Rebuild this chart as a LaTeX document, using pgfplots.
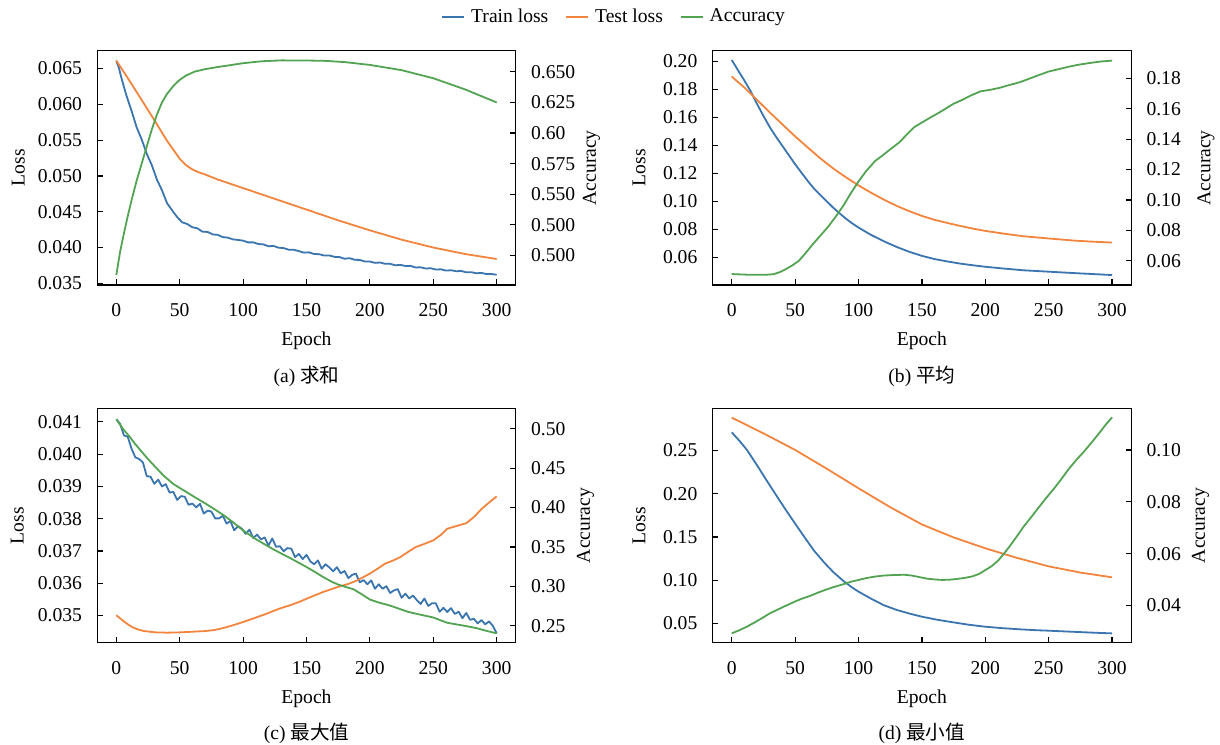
\documentclass[border=0pt]{standalone}
\usepackage{fontspec}
\setmainfont{Liberation Serif}
\newfontfamily\cjk{Noto Sans CJK SC}
\usepackage{pgfplots}
\pgfplotsset{compat=1.18}

\definecolor{cBlue}{RGB}{58,117,175}
\definecolor{cOrange}{RGB}{242,133,62}
\definecolor{cGreen}{RGB}{82,163,82}
\newcommand{\fsz}{\fontsize{9.8}{11.5}\selectfont}

\pgfplotsset{
  base/.style={scale only axis, width=209.2pt, height=117.2pt,
    xmin=-15, xmax=315, tick align=inside, major tick length=2.8pt,
    scaled y ticks=false, clip mode=individual,
    every tick/.style={black, line width=0.6pt},
    axis line style={black, line width=0.6pt},
    tick label style={font=\fsz}, label style={font=\fsz},
    every axis plot/.append style={line width=0.9pt, line join=round}},
  leftax/.style={base, xtick pos=bottom, ytick pos=left,
    xtick={0,50,100,150,200,250,300},
    xticklabels={0,50,100,150,200,250,300},
    xticklabel style={anchor=north, inner sep=0pt, yshift=-9pt},
    yticklabel style={anchor=east, inner sep=0pt, xshift=-7.5pt},
    xlabel={Epoch}, ylabel={Loss},
    xlabel style={at={(axis description cs:0.5,-0.240)}, anchor=center}},
  rightax/.style={base, axis x line=none, axis y line*=right,
    tick align=inside,
    yticklabel style={anchor=west, inner sep=0pt, xshift=7.5pt},
    ylabel={Accuracy}},
}

\begin{document}
\begin{tikzpicture}
\useasboundingbox (0,0) rectangle (610pt,372pt);

% ---------- (a) sum ----------
\begin{axis}[leftax, at={(48.65pt,229.5pt)}, anchor=south west,
  ymin=0.03477, ymax=0.0675,
  ytick={0.035,0.040,0.045,0.050,0.055,0.060,0.065},
  yticklabels={0.035,0.040,0.045,0.050,0.055,0.060,0.065},
  ylabel style={at={(axis description cs:-0.189,0.5)}, anchor=center},
  legend columns=3,
  legend image code/.code={\draw[#1] (0pt,0pt) -- (11pt,0pt);},
  legend style={at={(axis description cs:1.24,1.1433)}, anchor=center,
    draw=none, fill=none, font=\fsz,
    nodes={inner xsep=3pt, inner ysep=1pt},
    /tikz/every even column/.append style={column sep=5.5pt}}]
\addplot[cBlue] coordinates {
(0,0.0661)(2,0.0651)(4,0.0637)(8,0.0612)(12,0.0591)(16,0.0568)(20,0.0551)
(24,0.0531)(28,0.0515)(32,0.0495)(36,0.0480)(40,0.0462)(44,0.0452)
(48,0.04425)(52,0.04352)(56,0.04328)(60,0.04283)(64,0.04268)(68,0.04221)
(72,0.04218)(76,0.04183)(80,0.04177)(84,0.04146)(88,0.04138)(92,0.04114)
(96,0.04106)(100,0.04096)(104,0.04072)(108,0.04072)(112,0.04049)(116,0.04044)
(120,0.04018)(124,0.04022)(128,0.03998)(132,0.03992)(136,0.03969)(140,0.03969)
(144,0.03950)(148,0.03929)(152,0.03933)(156,0.03910)(160,0.03907)(164,0.03888)
(168,0.03890)(172,0.03870)(176,0.03867)(180,0.03844)(184,0.03851)(188,0.03829)
(192,0.03827)(196,0.03805)(200,0.03804)(204,0.03786)(208,0.03791)(212,0.03773)
(216,0.03773)(220,0.03752)(224,0.03758)(228,0.03742)(232,0.03744)(236,0.03722)
(240,0.03724)(244,0.03707)(248,0.03711)(252,0.03693)(256,0.03696)(260,0.03678)
(264,0.03683)(268,0.03669)(272,0.03673)(276,0.03654)(280,0.03656)(284,0.03641)
(288,0.03646)(292,0.03629)(296,0.03630)(300,0.03620)};
\addlegendentry{Train loss}
\addplot[cOrange] coordinates {
(0,0.0661)(10,0.0634)(20,0.0606)(30,0.0578)(40,0.0549)(50,0.0524)(55,0.0515)
(60,0.0509)(65,0.0505)(70,0.0502)(80,0.0495)(90,0.0489)(100,0.0483)
(125,0.0468)(150,0.0453)(175,0.0438)(200,0.0424)(225,0.0411)(250,0.0400)
(275,0.0391)(300,0.0384)};
\addlegendentry{Test loss}
\addlegendimage{cGreen, line width=0.9pt}
\addlegendentry{Accuracy}
\node[font=\fsz] at (axis description cs:0.5,-0.388) {(a) {\cjk 求和}};
\end{axis}
\begin{axis}[rightax, at={(48.65pt,229.5pt)}, anchor=south west,
  ymin=0.4758, ymax=0.6674,
  ytick={0.500,0.525,0.550,0.575,0.600,0.625,0.650},
  yticklabels={0.500,0.500,0.550,0.575,0.60,0.625,0.650},
  ylabel style={at={(axis description cs:1.181,0.5)}, anchor=center}]
\addplot[cGreen] coordinates {
(0,0.4840)(3,0.5030)(6,0.5180)(9,0.5320)(12,0.5450)(16,0.5610)(20,0.5750)
(24,0.5890)(28,0.6030)(32,0.6150)(36,0.6250)(40,0.6320)(45,0.6385)(50,0.6435)
(55,0.6470)(62,0.6503)(70,0.6522)(80,0.6540)(90,0.6555)(100,0.6571)
(115,0.6587)(130,0.6594)(150,0.6593)(165,0.6590)(180,0.6580)(200,0.6557)
(225,0.6514)(250,0.6448)(275,0.6357)(300,0.6250)};
\end{axis}

% ---------- (b) mean ----------
\begin{axis}[leftax, at={(356.35pt,229.5pt)}, anchor=south west,
  ymin=0.0403, ymax=0.2076,
  ytick={0.06,0.08,0.10,0.12,0.14,0.16,0.18,0.20},
  yticklabels={0.06,0.08,0.10,0.12,0.14,0.16,0.18,0.20},
  ylabel style={at={(axis description cs:-0.176,0.5)}, anchor=center}]
\addplot[cBlue] coordinates {
(0,0.2009)(5,0.1935)(10,0.1862)(15,0.1785)(20,0.1695)(25,0.1610)(30,0.1530)
(35,0.1460)(40,0.1395)(45,0.1330)(50,0.1265)(55,0.1205)(60,0.1145)(65,0.1090)
(70,0.1045)(75,0.1000)(80,0.0955)(85,0.0915)(90,0.0877)(95,0.0843)(100,0.0813)
(110,0.0760)(120,0.0715)(130,0.0675)(140,0.0640)(150,0.0611)(160,0.0588)
(170,0.0571)(180,0.0556)(190,0.0544)(200,0.0533)(215,0.0520)(230,0.0508)
(250,0.0498)(270,0.0488)(285,0.0481)(300,0.0474)};
\addplot[cOrange] coordinates {
(0,0.1891)(10,0.1812)(20,0.1724)(30,0.1635)(40,0.1549)(50,0.1464)(60,0.1384)
(70,0.1306)(80,0.1235)(90,0.1172)(100,0.1114)(110,0.1061)(120,0.1012)
(130,0.0968)(140,0.0930)(150,0.0896)(160,0.0868)(170,0.0846)(180,0.0825)
(190,0.0806)(200,0.0789)(215,0.0769)(230,0.0751)(250,0.0735)(270,0.0720)
(285,0.0712)(300,0.0706)};
\node[font=\fsz] at (axis description cs:0.5,-0.388) {(b) {\cjk 平均}};
\end{axis}
\begin{axis}[rightax, at={(356.35pt,229.5pt)}, anchor=south west,
  ymin=0.0440, ymax=0.1984,
  ytick={0.06,0.08,0.10,0.12,0.14,0.16,0.18},
  yticklabels={0.06,0.08,0.10,0.12,0.14,0.16,0.18},
  ylabel style={at={(axis description cs:1.179,0.5)}, anchor=center}]
\addplot[cGreen] coordinates {
(0,0.0512)(6,0.0510)(12,0.0508)(20,0.0507)(28,0.0508)(33,0.0511)(38,0.0525)
(43,0.0546)(48,0.0570)(53,0.0600)(58,0.0648)(64,0.0709)(70,0.0766)(76,0.0823)
(82,0.0890)(88,0.0962)(94,0.1045)(100,0.1122)(106,0.1190)(113,0.1256)
(120,0.1300)(126,0.1340)(132,0.1378)(138,0.1430)(144,0.1480)(150,0.1510)
(156,0.1540)(162,0.1568)(168,0.1598)(175,0.1634)(182,0.1660)(189,0.1690)
(196,0.1715)(204,0.1726)(211,0.1738)(218,0.1755)(227,0.1775)(235,0.1800)
(243,0.1825)(250,0.1846)(258,0.1862)(266,0.1878)(273,0.1890)(282,0.1902)
(291,0.1912)(300,0.1918)};
\end{axis}

% ---------- (c) max ----------
\begin{axis}[leftax, at={(48.65pt,50.65pt)}, anchor=south west,
  ymin=0.03416, ymax=0.04142,
  ytick={0.035,0.036,0.037,0.038,0.039,0.040,0.041},
  yticklabels={0.035,0.036,0.037,0.038,0.039,0.040,0.041},
  ylabel style={at={(axis description cs:-0.191,0.5)}, anchor=center}]
\addplot[cBlue] coordinates {
(0,0.04108)(3,0.04094)(6,0.04058)(9,0.04054)(12,0.04017)(15,0.03990)(18,0.03985)
(21,0.03974)(24,0.03932)(27,0.03930)(30,0.03908)(33,0.03921)(36,0.03900)
(39,0.03907)(42,0.03881)(45,0.03883)(48,0.03858)(51,0.03870)(54,0.03868)
(57,0.03843)(60,0.03847)(63,0.03835)(66,0.03846)(69,0.03816)(72,0.03825)
(75,0.03822)(78,0.03801)(81,0.03801)(84,0.03809)(87,0.03785)(90,0.03793)
(93,0.03764)(96,0.03777)(99,0.03769)(102,0.03753)(105,0.03766)(108,0.03740)
(111,0.03751)(114,0.03736)(117,0.03742)(120,0.03717)(123,0.03739)(126,0.03713)
(129,0.03715)(132,0.03699)(135,0.03709)(138,0.03707)(141,0.03681)(144,0.03691)
(147,0.03675)(150,0.03688)(153,0.03668)(156,0.03659)(159,0.03671)(162,0.03645)
(165,0.03659)(168,0.03649)(171,0.03637)(174,0.03650)(177,0.03631)(180,0.03638)
(183,0.03616)(186,0.03626)(189,0.03630)(192,0.03603)(195,0.03610)(198,0.03597)
(201,0.03609)(204,0.03583)(207,0.03597)(210,0.03583)(213,0.03591)(216,0.03570)
(219,0.03578)(222,0.03582)(225,0.03555)(228,0.03568)(231,0.03553)(234,0.03562)
(237,0.03548)(240,0.03536)(243,0.03553)(246,0.03530)(249,0.03538)(252,0.03538)
(255,0.03512)(258,0.03524)(261,0.03511)(264,0.03523)(267,0.03505)(270,0.03512)
(273,0.03492)(276,0.03508)(279,0.03487)(282,0.03490)(285,0.03476)(288,0.03486)
(291,0.03473)(294,0.03482)(297,0.03468)(300,0.03445)};
\addplot[cOrange] coordinates {
(0,0.03501)(4,0.03488)(8,0.03476)(13,0.03463)(18,0.03456)(22,0.03452)
(31,0.03448)(40,0.03447)(50,0.03448)(60,0.03450)(70,0.03452)(77,0.03455)
(85,0.03462)(92,0.03470)(100,0.03480)(108,0.03491)(118,0.03505)(129,0.03522)
(137,0.03532)(144,0.03542)(153,0.03557)(163,0.03573)(175,0.03589)(183,0.03598)
(190,0.03609)(200,0.03630)(206,0.03645)(212,0.03661)(218,0.03670)(224,0.03681)
(230,0.03697)(236,0.03712)(243,0.03722)(250,0.03733)(256,0.03750)(261,0.03769)
(268,0.03777)(276,0.03786)(282,0.03805)(288,0.03830)(294,0.03850)(300,0.03869)};
\node[font=\fsz] at (axis description cs:0.5,-0.388) {(c) {\cjk 最大值}};
\end{axis}
\begin{axis}[rightax, at={(48.65pt,50.65pt)}, anchor=south west,
  ymin=0.2285, ymax=0.5261,
  ytick={0.25,0.30,0.35,0.40,0.45,0.50},
  yticklabels={0.25,0.30,0.35,0.40,0.45,0.50},
  ylabel style={at={(axis description cs:1.167,0.5)}, anchor=center}]
\addplot[cGreen] coordinates {
(0,0.5122)(5,0.5005)(10,0.4910)(15,0.4805)(20,0.4710)(25,0.4616)(30,0.4530)
(37,0.4410)(45,0.4300)(50,0.4250)(56,0.4190)(62,0.4132)(70,0.4055)(77,0.3984)
(85,0.3900)(92,0.3815)(100,0.3710)(110,0.3600)(123,0.3478)(130,0.3418)
(138,0.3352)(150,0.3246)(157,0.3180)(163,0.3120)(170,0.3058)(175,0.3023)
(181,0.2992)(187,0.2964)(193,0.2905)(200,0.2833)(207,0.2795)(215,0.2761)
(222,0.2722)(230,0.2677)(240,0.2640)(250,0.2605)(256,0.2568)(261,0.2538)
(268,0.2518)(276,0.2496)(284,0.2470)(292,0.2435)(300,0.2403)};
\end{axis}

% ---------- (d) min ----------
\begin{axis}[leftax, at={(356.35pt,50.65pt)}, anchor=south west,
  ymin=0.0276, ymax=0.2990,
  ytick={0.05,0.10,0.15,0.20,0.25},
  yticklabels={0.05,0.10,0.15,0.20,0.25},
  ylabel style={at={(axis description cs:-0.176,0.5)}, anchor=center}]
\addplot[cBlue] coordinates {
(0,0.2712)(6,0.2615)(12,0.2508)(20,0.2330)(27,0.2167)(35,0.1985)(43,0.1806)
(50,0.1655)(58,0.1485)(65,0.1340)(73,0.1203)(80,0.1095)(88,0.0992)(95,0.0915)
(100,0.0867)(110,0.0785)(120,0.0710)(130,0.0656)(140,0.0614)(150,0.0577)
(162,0.0542)(175,0.0511)(187,0.0484)(200,0.0461)(213,0.0445)(227,0.0431)
(240,0.0421)(250,0.0415)(262,0.0407)(273,0.0400)(287,0.0391)(300,0.0384)};
\addplot[cOrange] coordinates {
(0,0.2882)(25,0.2700)(50,0.2508)(75,0.2290)(100,0.2064)(125,0.1845)
(150,0.1645)(175,0.1495)(200,0.1369)(225,0.1258)(250,0.1160)(275,0.1088)
(300,0.1033)};
\node[font=\fsz] at (axis description cs:0.5,-0.388) {(d) {\cjk 最小值}};
\end{axis}
\begin{axis}[rightax, at={(356.35pt,50.65pt)}, anchor=south west,
  ymin=0.0257, ymax=0.1161,
  ytick={0.04,0.06,0.08,0.10},
  yticklabels={0.04,0.06,0.08,0.10},
  ylabel style={at={(axis description cs:1.166,0.5)}, anchor=center}]
\addplot[cGreen] coordinates {
(0,0.0293)(6,0.0305)(12,0.0319)(18,0.0335)(24,0.0352)(30,0.0370)(36,0.0384)
(42,0.0398)(50,0.0416)(56,0.0428)(62,0.0438)(68,0.0450)(74,0.0461)(80,0.0471)
(87,0.0481)(94,0.0492)(100,0.0499)(106,0.0506)(113,0.0512)(120,0.0516)
(128,0.0518)(136,0.0519)(142,0.0516)(148,0.0510)(154,0.0504)(160,0.0501)
(166,0.0499)(172,0.0500)(178,0.0503)(184,0.0507)(190,0.0513)(195,0.0522)
(200,0.0537)(205,0.0552)(210,0.0573)(215,0.0602)(220,0.0634)(225,0.0668)
(230,0.0703)(236,0.0740)(242,0.0778)(248,0.0815)(254,0.0850)(260,0.0888)
(266,0.0928)(272,0.0963)(278,0.0995)(284,0.1030)(290,0.1066)(295,0.1098)
(300,0.1126)};
\end{axis}
\end{tikzpicture}
\end{document}
